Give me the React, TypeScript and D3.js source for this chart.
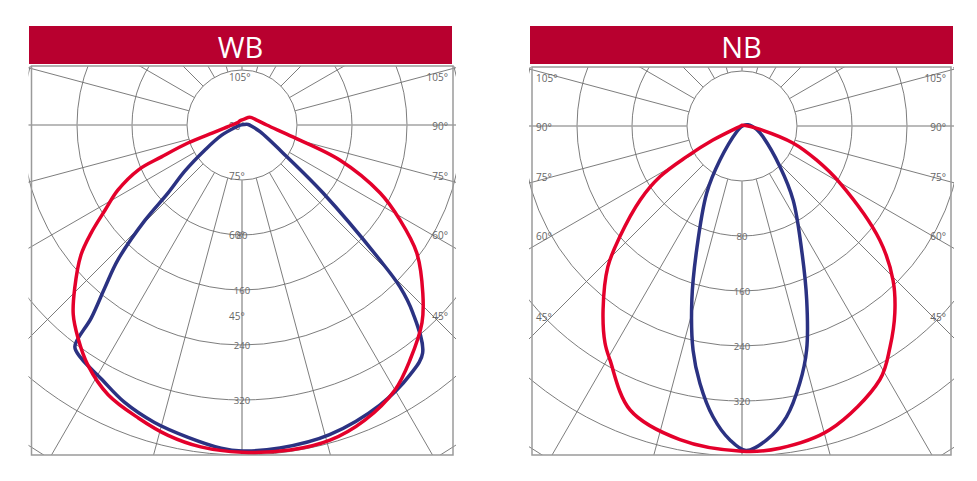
import React from 'react';
import * as d3 from 'd3';

const panelTitles = ['WB', 'NB'];
const ringValues = [0, 80, 160, 240, 320, 400, 480];
const valueTickLabels = [80, 160, 240, 320];
const angleTickLabels = [105, 90, 75, 60, 45];
const spokeAngles = d3.range(0, 360, 15);

// [angle from nadir in degrees (+ = right side), value read against the rings]
const wbRed: [number, number][] = [
  [0, 396], [8.4, 398], [15.6, 396], [22.6, 385], [30, 365], [35.6, 340], [42.3, 309], [47.1, 279],
  [53.8, 235], [59, 188], [63.8, 144], [70.3, 71], [76.8, -4], [90, -44], [110, -58], [135, -64],
  [160, -71], [-160, -73], [-120, -73], [-90, -65], [-80, -54], [-75, -36], [-71.6, 3], [-68.4, 46],
  [-66.6, 84], [-62.3, 124], [-58.2, 154], [-54.4, 190], [-51.1, 221], [-45.7, 260], [-41.7, 289],
  [-37.6, 311], [-32.7, 335], [-26.4, 358], [-19.5, 372], [-13.4, 384], [-7.3, 392],
];
const wbBlue: [number, number][] = [
  [0, 394], [6.7, 393], [15.8, 388], [26.2, 374], [33.9, 358], [38.4, 343], [42.3, 289], [44.3, 249],
  [45.6, 201], [50, 74], [54.7, 0], [69.6, -52], [81.5, -65], [94.8, -71], [104, -77], [-80.5, -76],
  [-72, -72], [-63.4, -47], [-56, -15], [-51.1, 27], [-47.4, 66], [-45.5, 118],
  [-42.6, 187], [-40.1, 230], [-38, 276], [-37, 324], [-34.6, 332], [-29.1, 342], [-23, 358],
  [-16.4, 371], [-9.8, 381], [-3.7, 391],
];
const nbRed: [number, number][] = [
  [0, 393], [6.7, 392], [16.1, 380], [28.5, 340], [33.8, 307], [39.3, 271], [44.4, 234], [50.4, 180],
  [59.8, 85], [65.5, 39], [71.6, -2], [81, -58], [100, -75], [180, -79], [-90, -78], [-64.2, -33],
  [-61, 12], [-58.3, 60], [-54, 103], [-47.8, 160], [-43.6, 203], [-37.1, 255], [-32.3, 293],
  [-29.4, 311], [-21.5, 364], [-11.2, 385],
];
const nbBlue: [number, number][] = [
  [0.7, 392], [4.5, 378], [8.7, 348], [12.7, 303], [16.1, 259], [20.4, 190],
  [25.7, 120], [34.6, 51], [43, 1], [63, -46], [76.9, -58], [90, -66], [101.3, -71], [108.4, -75],
  [-45, -78], [-42.9, -69], [-32.9, -21], [-27.8, 30], [-20.1, 112], [-16.1, 183], [-12.3, 254],
  [-9.3, 299], [-5.7, 345], [-2.2, 377],
];

const RED = '#e4002b';
const BLUE = '#2b3282';
const HEADER = '#b8002f';
const FONT = "'Open Sans', 'Noto Sans', sans-serif";

export default function App() {
  const W = 977;
  const H = 481;
  const rScale = d3.scaleLinear().domain([-80, 400]).range([0, 330]);
  const rad = (deg: number) => (deg * Math.PI) / 180;
  const line = d3
    .lineRadial<[number, number]>()
    .angle((d) => rad(180 - d[0]))
    .radius((d) => rScale(d[1]))
    .curve(d3.curveCatmullRomClosed.alpha(0.5));

  const panels = [
    {
      title: panelTitles[0], red: wbRed, blue: wbBlue,
      box: { x0: 31.5, x1: 453, y0: 66, y1: 455 },
      header: { x0: 29, x1: 452, y0: 26, y1: 64 },
      cx: 242, cy: 125, leftLabelX: 229,
    },
    {
      title: panelTitles[1], red: nbRed, blue: nbBlue,
      box: { x0: 532, x1: 951, y0: 67, y1: 455 },
      header: { x0: 530, x1: 953, y0: 26, y1: 64 },
      cx: 742, cy: 126, leftLabelX: 536,
    },
  ];

  return (
    <div style={{ position: 'absolute', left: 0, top: 0 }}>
      <svg width={W} height={H} style={{ display: 'block', background: '#fff' }}>
        <defs>
          {panels.map((p, i) => (
            <clipPath id={`clip${i}`} key={i}>
              <rect x={p.box.x0 - 3} y={p.box.y0} width={p.box.x1 - p.box.x0 + 6} height={p.box.y1 - p.box.y0} />
            </clipPath>
          ))}
        </defs>
        {panels.map((p, i) => {
          const r0 = rScale(0);
          const labelY = (a: number) => p.cy + 190 / Math.tan(rad(a)) + (a > 90 ? 3 : 0.5);
          return (
            <g key={i}>
              <g clipPath={`url(#clip${i})`}>
                {ringValues.map((v) => (
                  <circle key={v} cx={p.cx} cy={p.cy} r={rScale(v)} fill="none" stroke="#6e6e6e" strokeWidth={0.9} />
                ))}
                {spokeAngles.map((a) => {
                  const main = a % 90 === 0;
                  return (
                    <line
                      key={a}
                      x1={p.cx + r0 * Math.sin(rad(a))}
                      y1={p.cy + r0 * Math.cos(rad(a))}
                      x2={p.cx + 700 * Math.sin(rad(a))}
                      y2={p.cy + 700 * Math.cos(rad(a))}
                      stroke={main ? '#a3a3a3' : '#6e6e6e'}
                      strokeWidth={main ? 1.6 : 0.9}
                    />
                  );
                })}
              </g>
              <rect
                x={p.box.x0}
                y={p.box.y0}
                width={p.box.x1 - p.box.x0}
                height={p.box.y1 - p.box.y0}
                fill="none"
                stroke="#9a9a9a"
                strokeWidth={1.5}
              />
              {valueTickLabels.map((v) => (
                <text
                  key={v}
                  x={p.cx}
                  y={p.cy + rScale(v)}
                  textAnchor="middle"
                  dominantBaseline="central"
                  fontFamily={FONT}
                  fontSize={9.5}
                  fill="#666"
                >
                  {v}
                </text>
              ))}
              {angleTickLabels.map((a) => (
                <g key={a}>
                  <text
                    x={p.leftLabelX}
                    y={labelY(a)}
                    textAnchor="start"
                    dominantBaseline="central"
                    fontFamily={FONT}
                    fontSize={10}
                    fill="#666"
                  >
                    {a}°
                  </text>
                  <text
                    x={p.box.x1 - 5}
                    y={labelY(a)}
                    textAnchor="end"
                    dominantBaseline="central"
                    fontFamily={FONT}
                    fontSize={10}
                    fill="#666"
                  >
                    {a}°
                  </text>
                </g>
              ))}
              <g transform={`translate(${p.cx},${p.cy})`}>
                <path d={line(p.blue) || ''} fill="none" stroke={BLUE} strokeWidth={3.5} strokeLinejoin="round" />
                <path d={line(p.red) || ''} fill="none" stroke={RED} strokeWidth={3.5} strokeLinejoin="round" />
              </g>
              <rect
                x={p.header.x0}
                y={p.header.y0}
                width={p.header.x1 - p.header.x0}
                height={p.header.y1 - p.header.y0}
                fill={HEADER}
              />
              <text
                x={(p.header.x0 + p.header.x1) / 2}
                y={(p.header.y0 + p.header.y1) / 2 + 1}
                textAnchor="middle"
                dominantBaseline="central"
                fontFamily={FONT}
                fontSize={29}
                fill="#fff"
              >
                {p.title}
              </text>
            </g>
          );
        })}
      </svg>
    </div>
  );
}
